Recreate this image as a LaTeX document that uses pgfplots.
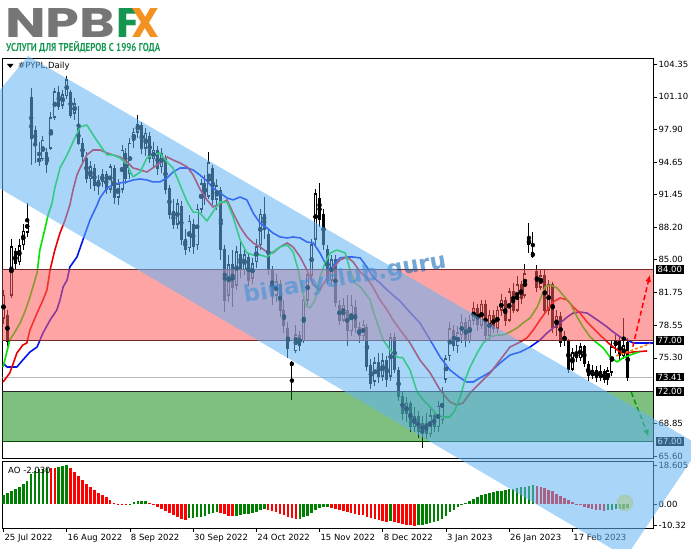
\documentclass[border=0pt]{standalone}
\usepackage{fontspec}
\usepackage{pgfplots}
\usepackage{pgfplotstable}
\pgfplotsset{compat=1.18}
\usetikzlibrary{arrows.meta}
\setmainfont{DejaVu Sans}
\newfontfamily\logofont{Poppins}
\newfontfamily\subfont{PT Sans}

\definecolor{chan}{RGB}{100,180,245}
\definecolor{zred}{RGB}{255,90,90}
\definecolor{zgreen}{RGB}{0,128,0}
\definecolor{lips}{RGB}{0,230,0}
\definecolor{teeth}{RGB}{235,0,0}
\definecolor{jaw}{RGB}{0,20,240}
\definecolor{aogreen}{RGB}{0,128,0}
\definecolor{aored}{RGB}{255,0,0}
\definecolor{logogray}{RGB}{118,118,118}
\definecolor{logogreen}{RGB}{20,150,80}
\definecolor{logoorange}{RGB}{243,146,33}
\definecolor{zline}{RGB}{120,40,40}

% daily candles, bar index from 25 Jul 2022
\pgfplotstableread{
i o h l c
0 79.2 82.0 78.6 81.5
1 79.5 80.0 76.5 76.9
2 81.5 87.0 81.2 86.3
3 85.8 86.2 84.0 84.6
4 84.8 87.0 84.5 86.4
5 86.5 88.5 86.0 87.8
6 87.7 90.6 87.2 88.9
7 101.0 102.0 94.4 97.0
8 97.8 98.2 94.6 96.6
9 94.7 96.6 94.3 95.0
10 95.0 97.2 94.8 96.8
11 95.6 96.0 93.6 94.4
12 96.0 99.6 95.8 99.0
13 99.1 102.0 98.8 101.6
14 101.5 102.2 99.8 100.2
15 100.3 101.8 99.9 101.3
16 101.2 103.2 100.9 102.8
17 101.5 101.8 99.0 99.3
18 99.5 101.0 98.8 100.4
19 98.0 100.2 96.3 96.5
20 96.5 97.0 94.6 95.2
21 95.0 95.6 92.6 93.0
22 93.0 94.8 92.0 94.2
23 94.0 94.5 91.8 92.3
24 92.3 93.4 91.4 92.8
25 92.7 94.0 92.2 93.4
26 93.4 93.8 91.5 92.0
27 92.0 94.5 91.6 94.2
28 94.0 94.4 90.5 91.2
29 91.2 93.0 90.4 92.5
30 92.0 96.3 91.6 95.8
31 95.5 96.0 92.5 93.0
32 93.5 97.0 93.0 96.5
33 96.8 98.0 96.0 97.6
34 97.6 99.3 97.0 98.4
35 98.3 98.6 95.5 96.0
36 96.0 98.0 95.3 97.5
37 97.2 97.6 94.6 95.0
38 95.0 96.6 94.2 95.8
39 95.8 96.2 93.4 94.0
40 94.2 96.0 93.6 95.5
41 95.0 95.4 91.5 92.0
42 92.0 92.4 89.0 89.5
43 89.8 91.0 88.0 88.5
44 88.5 91.0 88.0 90.5
45 90.3 90.8 86.5 87.0
46 87.0 88.0 85.5 86.0
47 86.2 89.4 85.8 88.8
48 88.5 89.0 85.6 86.3
49 86.5 90.5 86.0 90.0
50 90.0 93.0 89.6 92.5
51 92.5 93.4 90.4 91.2
52 91.3 95.6 91.0 94.6
53 94.0 94.4 90.4 91.0
54 91.0 93.0 89.9 92.3
55 91.8 92.2 85.0 86.0
56 86.0 86.5 79.8 81.0
57 81.5 85.5 80.8 84.5
58 84.5 86.0 80.3 82.3
59 82.5 86.4 82.0 85.8
60 85.5 86.8 83.2 84.0
61 84.0 86.2 83.5 85.5
62 85.2 85.6 82.4 83.0
63 83.2 85.2 82.6 84.6
64 84.8 87.0 84.2 86.3
65 86.5 90.0 86.0 89.5
66 89.5 91.2 87.0 88.0
67 87.5 88.0 83.5 84.0
68 84.0 84.4 80.5 81.5
69 81.5 83.6 80.8 82.8
70 82.5 83.0 79.3 80.0
71 80.0 81.0 77.8 78.5
72 78.2 78.8 75.3 76.2
73 74.8 75.0 71.1 74.6
74 76.0 78.5 75.8 77.6
75 77.5 78.0 76.0 76.5
76 77.0 81.5 76.8 81.0
77 81.0 84.0 80.5 83.5
78 83.5 87.0 83.0 86.5
79 87.0 92.0 86.5 91.5
80 91.0 92.6 88.2 89.0
81 89.5 90.0 86.0 86.5
82 86.0 86.5 82.6 83.0
83 83.0 85.5 82.5 85.0
84 85.0 85.5 80.3 80.8
85 80.5 81.0 78.5 79.0
86 79.0 81.2 78.8 80.5
87 80.0 81.5 76.5 78.0
88 78.0 81.5 77.5 80.5
89 80.3 81.0 77.8 78.3
90 78.3 78.8 76.8 77.5
91 77.5 79.0 77.0 78.5
92 78.3 78.6 74.0 74.5
93 74.5 75.2 72.2 72.8
94 73.0 75.4 72.5 74.8
95 74.8 75.8 72.8 73.5
96 73.5 75.8 73.0 75.0
97 75.0 75.5 72.4 73.2
98 73.5 77.8 73.0 77.3
99 77.3 77.8 73.8 74.2
100 74.0 74.4 71.0 71.5
101 71.5 72.0 69.2 69.8
102 69.8 71.4 69.0 70.8
103 70.8 71.0 68.0 68.5
104 68.5 70.4 68.0 69.5
105 69.5 70.0 67.4 68.0
106 68.0 69.6 66.4 68.8
107 68.8 69.8 67.3 67.8
108 67.8 70.2 67.5 69.6
109 69.6 70.0 68.0 68.5
110 68.5 71.0 68.0 70.5
111 69.2 72.4 68.8 72.0
112 73.2 75.6 72.8 75.2
113 75.5 78.8 75.0 78.2
114 78.0 78.5 76.0 76.5
115 76.5 78.4 75.8 77.8
116 77.6 79.6 76.8 78.8
117 78.8 79.2 76.4 77.0
118 77.0 79.5 76.8 79.0
119 79.0 80.8 78.5 80.2
120 80.2 80.6 78.0 78.6
121 78.5 81.0 78.2 80.6
122 80.6 81.0 77.0 77.5
123 77.5 80.0 77.0 79.5
124 79.5 80.0 77.8 78.2
125 78.2 80.4 77.8 80.0
126 80.0 81.6 79.4 81.0
127 81.0 81.3 78.4 79.0
128 79.0 82.2 78.8 81.8
129 81.8 82.7 79.7 80.0
130 80.0 83.4 79.8 82.5
131 82.5 82.9 80.6 81.2
132 81.5 84.6 81.2 83.6
133 86.5 88.6 85.7 87.0
134 85.7 87.7 85.2 85.3
135 83.8 84.5 81.8 82.3
136 82.3 84.0 82.0 83.4
137 83.4 84.0 79.5 80.0
138 80.0 83.0 79.5 82.5
139 82.5 82.8 77.8 78.3
140 78.3 80.0 77.5 79.4
141 79.4 79.8 76.4 76.8
142 77.0 78.0 76.5 77.4
143 77.0 77.2 73.8 74.2
144 74.2 76.3 74.0 75.8
145 75.8 76.6 74.9 75.3
146 75.3 76.8 75.0 76.4
147 76.4 76.6 74.4 74.8
148 74.6 75.0 73.0 73.6
149 73.6 74.6 73.2 74.0
150 74.0 74.5 72.9 73.4
151 73.4 74.6 73.0 73.9
152 73.9 74.2 72.8 73.2
153 73.2 74.4 72.6 74.0
154 73.9 77.0 73.5 76.4
155 76.5 77.6 75.8 77.0
156 77.0 77.5 75.0 75.5
157 75.5 79.2 75.2 76.5
158 76.8 77.3 73.0 73.41
}\candles

% Awesome Oscillator, u=1 rising bar (green), u=0 falling bar (red)
\pgfplotstableread{
i v u
0 4.3 1
1 5.1 1
2 6.2 1
3 7.2 1
4 8.3 1
5 9.4 1
6 11.1 1
7 14.3 1
8 15.9 1
9 16.5 1
10 16.8 1
11 17.3 1
12 17.1 0
13 17.0 0
14 17.6 1
15 18.1 1
16 18.605 1
17 17.0 0
18 15.4 0
19 13.4 0
20 11.4 0
21 9.5 0
22 7.9 0
23 6.7 0
24 5.4 0
25 4.3 0
26 3.5 0
27 1.9 0
28 0.6 0
29 0.1 0
30 -0.3 0
31 -0.5 0
32 -0.1 1
33 1.0 1
34 1.3 1
35 1.4 1
36 1.6 1
37 0.6 0
38 -0.5 0
39 -1.3 0
40 -2.2 0
41 -3.2 0
42 -4.5 0
43 -5.2 0
44 -6.4 0
45 -7.3 0
46 -7.6 0
47 -6.8 1
48 -6.5 1
49 -6.4 1
50 -6.0 1
51 -5.5 1
52 -5.0 1
53 -4.5 1
54 -4.0 1
55 -4.2 0
56 -5.0 0
57 -5.6 0
58 -5.8 0
59 -5.5 1
60 -5.2 1
61 -5.0 1
62 -4.6 1
63 -4.3 1
64 -3.8 1
65 -3.0 1
66 -2.5 1
67 -2.8 0
68 -3.4 0
69 -4.0 0
70 -4.6 0
71 -5.4 0
72 -6.0 0
73 -6.8 0
74 -7.1 0
75 -7.0 1
76 -6.4 1
77 -5.5 1
78 -4.3 1
79 -3.0 1
80 -2.0 1
81 -1.6 1
82 -1.5 1
83 -1.8 0
84 -2.3 0
85 -2.9 0
86 -3.3 0
87 -3.9 0
88 -4.2 0
89 -4.6 0
90 -5.1 0
91 -5.4 0
92 -6.0 0
93 -6.8 0
94 -7.3 0
95 -7.8 0
96 -8.0 0
97 -8.4 0
98 -8.2 1
99 -8.5 0
100 -9.0 0
101 -9.6 0
102 -9.8 0
103 -10.1 0
104 -10.32 0
105 -10.2 1
106 -9.9 1
107 -9.5 1
108 -9.1 1
109 -8.7 1
110 -8.0 1
111 -7.0 1
112 -5.6 1
113 -4.0 1
114 -2.8 1
115 -1.5 1
116 -0.4 1
117 0.6 1
118 1.6 1
119 2.6 1
120 3.4 1
121 4.2 1
122 4.8 1
123 5.3 1
124 5.7 1
125 6.0 1
126 6.4 1
127 6.7 1
128 7.0 1
129 7.3 1
130 7.6 1
131 7.9 1
132 8.3 1
133 8.8 1
134 9.0 1
135 8.8 0
136 8.3 0
137 7.6 0
138 6.9 0
139 6.0 0
140 5.0 0
141 4.0 0
142 3.0 0
143 2.0 0
144 1.0 0
145 0.2 0
146 -0.6 0
147 -1.2 0
148 -1.8 0
149 -2.3 0
150 -2.7 0
151 -3.0 0
152 -3.1 0
153 -3.0 1
154 -2.8 1
155 -2.6 1
156 -2.4 1
157 -2.2 1
158 -2.03 1
}\ao

\begin{document}
\begin{tikzpicture}[x=1pt,y=1pt]
\useasboundingbox (0,0) rectangle (691,549);
\fill[white] (0,0) rectangle (691,549);

\begin{axis}[
  at={(2.5pt,91pt)}, anchor=south west, scale only axis,
  width=650.5pt, height=400pt,
  xmin=-0.25, xmax=164.4, ymin=65.40, ymax=104.94,
  axis line style={black, line width=0.8pt},
  xtick=\empty,
  ytick pos=right, tick align=outside, major tick length=4pt,
  tick style={black, line width=0.6pt},
  ytick={65.60,68.85,75.30,78.55,81.75,85.00,88.20,91.45,94.65,97.90,101.10,104.35},
  yticklabels={65.60,68.85,75.30,78.55,81.75,85.00,88.20,91.45,94.65,97.90,101.10,104.35},
  yticklabel style={font=\fontsize{8.5}{10}\selectfont, anchor=west, xshift=-2pt},
]
% last price line
\addplot[gray!55, line width=0.6pt] coordinates {(-1,73.41) (170,73.41)};
% wicks
\addplot[only marks, mark=none, error bars/.cd, y dir=both, y explicit, error mark=none,
  error bar style={draw=black, line width=1pt}]
  table[x=i, y expr={(\thisrow{h}+\thisrow{l})/2}, y error expr={(\thisrow{h}-\thisrow{l})/2}] {\candles};
% bodies
\addplot[only marks, mark=none, error bars/.cd, y dir=both, y explicit, error mark=none,
  error bar style={draw=black, line width=3pt}]
  table[x=i, y expr={(\thisrow{o}+\thisrow{c})/2}, y error expr={abs(\thisrow{o}-\thisrow{c})/2+0.06}] {\candles};
\addplot[only marks, mark=none, restrict expr to domain={\thisrow{c}-\thisrow{o}}{0.25:100},
  error bars/.cd, y dir=both, y explicit, error mark=none,
  error bar style={draw=white, line width=1.4pt}]
  table[x=i, y expr={(\thisrow{o}+\thisrow{c})/2}, y error expr={(\thisrow{c}-\thisrow{o})/2-0.1}] {\candles};

% alligator jaw (blue)
\addplot[jaw, line width=1.6pt, line join=round] coordinates {
(-0.1,74.79) (0.9,74.40) (3.4,74.40) (4.9,75.09) (6.7,75.88) (8.5,76.37) (10.0,77.76)
(11.8,79.04) (13.5,80.03) (14.3,81.02) (15.1,82.31) (16.1,83.0) (16.8,84.28) (18.6,85.27)
(20.1,86.95) (21.9,88.93) (23.7,90.41) (24.4,91.10) (26.2,92.09) (27.7,92.39) (29.5,92.59)
(31.3,92.69) (32.8,92.88) (34.6,92.98) (36.3,92.88) (37.8,92.69) (39.6,92.69) (41.4,93.08)
(42.9,93.67) (44.7,94.07) (46.5,94.07) (48.0,93.87) (49.7,93.38) (51.5,92.78) (53.0,92.09)
(54.8,91.60) (56.6,91.10) (58.1,90.91) (59.9,91.20) (61.6,90.91) (63.2,89.62) (64.9,88.63)
(66.7,88.14) (68.2,87.64) (70.0,87.25) (71.8,87.15) (73.3,87.25) (75.1,87.15) (76.8,86.75)
(78.4,86.66) (80.1,85.67) (81.4,84.68) (82.7,83.99) (83.9,84.68) (85.2,85.17) (87.0,85.27)
(88.5,85.27) (90.3,85.17) (92.0,84.28) (93.5,83.29) (95.3,82.70) (97.1,82.01) (98.6,81.5)
(100.4,80.9) (102.9,79.8) (105.4,78.75) (108.0,77.07) (110.5,75.39) (113.0,74.10) (115.6,73.31)
(117.3,72.91) (118.9,72.91) (120.6,73.31) (123.2,73.90) (125.7,74.79) (128.2,75.58) (130.8,75.88)
(133.3,76.37) (135.8,77.07) (137.6,77.76) (139.1,78.25) (140.9,78.75) (142.7,79.34) (144.2,79.73)
(145.9,79.83) (147.7,79.73) (149.2,79.34) (151.0,78.85) (152.8,78.35) (154.3,77.86) (156.1,77.37)
(157.8,77.07) (159.4,76.77) (164.4,76.77)};
% alligator teeth (red)
\addplot[teeth, line width=1.6pt, line join=round] coordinates {
(-0.1,72.91) (1.6,73.81) (3.4,75.78) (4.9,76.57) (5.9,76.77) (6.7,78.06) (8.5,79.73) (10.0,81.02)
(11.0,82.01) (11.8,83.99) (13.0,85.96) (14.3,87.64) (15.6,88.93) (16.8,90.41) (17.6,91.89)
(18.6,93.38) (19.4,94.07) (21.1,95.36) (22.7,95.85) (24.4,95.85) (26.2,95.55) (27.7,95.36)
(29.5,95.16) (31.3,94.66) (32.8,94.07) (34.6,93.87) (36.3,93.67) (37.8,94.07) (39.6,94.56)
(41.4,95.16) (42.9,94.86) (44.7,94.56) (46.5,94.17) (48.0,93.38) (49.7,92.0) (51.5,90.91)
(53.0,90.21) (54.8,90.51) (56.6,90.91) (58.1,89.62) (59.9,88.24) (61.6,87.25) (63.2,86.66)
(64.9,86.26) (66.7,85.77) (68.2,85.67) (70.0,86.26) (71.8,86.66) (73.3,86.26) (75.1,85.27)
(76.8,83.99) (78.4,82.51) (80.1,82.01) (81.6,83.0) (83.4,84.18) (85.2,84.98) (87.0,85.27)
(88.5,84.78) (90.3,83.79) (92.0,83.19) (93.5,82.31) (95.3,81.02) (97.1,80.03) (98.6,79.04)
(100.4,78.06) (102.9,76.77) (105.4,75.09) (108.0,73.81) (110.5,72.12) (113.0,70.94) (114.8,70.64)
(116.3,70.84) (118.1,71.83) (120.6,72.81) (123.2,73.81) (125.7,75.09) (128.2,76.37) (130.8,76.87)
(132.5,77.27) (134.1,78.06) (135.8,79.04) (137.6,80.03) (139.1,80.82) (140.9,81.22) (142.7,81.02)
(144.2,80.33) (145.9,79.73) (147.7,78.85) (149.2,78.25) (151.0,77.56) (152.8,76.87) (154.3,76.37)
(156.1,75.88) (157.8,75.78) (159.4,75.88) (162.9,75.98)};
% alligator lips (green)
\addplot[lips, line width=1.6pt, line join=round] coordinates {
(-0.1,74.40) (1.6,77.07) (2.9,77.86) (4.2,78.75) (5.4,79.83) (6.7,81.32) (8.5,83.69) (9.2,85.96)
(10.3,87.74) (11.3,89.43) (12.3,90.61) (13.0,92.09) (14.3,94.07) (16.1,95.36) (17.6,96.64)
(19.4,98.12) (21.1,98.32) (22.7,97.33) (24.4,96.34) (26.2,95.36) (27.7,95.36) (29.5,95.06)
(31.3,94.37) (32.8,93.18) (34.6,93.67) (36.3,95.06) (37.8,95.36) (39.6,95.55) (41.4,94.66)
(42.9,94.07) (44.7,92.39) (46.5,90.71) (48.0,89.72) (49.7,89.62) (51.5,88.83) (53.0,89.72)
(54.8,90.71) (56.6,90.71) (58.1,89.23) (59.9,86.95) (61.6,85.67) (63.2,85.47) (64.9,85.47)
(66.7,85.27) (68.2,85.77) (70.0,86.26) (71.8,86.46) (73.3,85.77) (74.6,83.99) (75.6,82.01)
(76.6,80.43) (77.6,80.23) (78.9,81.02) (80.1,83.29) (81.4,84.68) (82.7,85.67) (84.4,85.96)
(86.5,85.67) (87.7,83.99) (89.0,82.70) (90.3,82.31) (91.5,81.71) (92.8,81.02) (93.5,80.03)
(94.6,78.75) (96.1,77.07) (97.8,76.08) (99.6,75.39) (101.1,75.29) (102.9,74.10) (104.7,71.93)
(106.2,71.14) (108.0,70.44) (109.7,69.65) (111.3,69.45) (113.0,69.45) (114.3,70.15) (115.6,71.43)
(116.8,73.11) (118.1,74.40) (119.9,75.78) (121.4,76.77) (123.2,77.37) (124.9,77.56) (126.5,77.56)
(128.2,77.86) (130.0,78.25) (131.5,78.75) (133.3,79.24) (135.1,80.33) (135.8,81.02) (137.1,82.31)
(138.4,82.51) (140.1,82.21) (141.6,81.52) (143.4,80.72) (145.2,79.34) (146.7,78.35) (148.5,77.37)
(150.2,76.77) (151.8,76.28) (153.5,75.39) (155.3,74.89) (156.8,75.29) (158.6,75.58) (160.9,75.88)};

% support / resistance zones
\addplot[fill=zred, fill opacity=0.55, draw=none] coordinates {(-1,77) (170,77) (170,84) (-1,84)} --cycle;
\addplot[fill=zgreen, fill opacity=0.5, draw=none] coordinates {(-1,67) (170,67) (170,72) (-1,72)} --cycle;
\addplot[zline, line width=1pt] coordinates {(-1,84) (170,84)};
\addplot[zline, line width=1pt] coordinates {(-1,77) (170,77)};
\addplot[black!85, line width=1pt] coordinates {(-1,72) (170,72)};
\addplot[black!70!green, line width=1pt] coordinates {(-1,67) (170,67)};

% forecast arrows
\addplot[orange, line width=1.5pt, dash pattern=on 3pt off 2pt] coordinates {(155.1,75.5) (163.7,76.7)};
\addplot[red, line width=1.5pt, dash pattern=on 5pt off 3pt, -{Latex[length=7pt,width=6pt]}] coordinates {(159.3,76.4) (163.6,83.5)};
\addplot[black!40!green, line width=1.5pt, dash pattern=on 5pt off 3pt, -{Latex[length=7pt,width=6pt]}] coordinates {(158.9,71.9) (163.3,67.5)};

\coordinate (l84) at (axis cs:164.4,84.00);
\coordinate (l77) at (axis cs:164.4,77.00);
\coordinate (l7341) at (axis cs:164.4,73.41);
\coordinate (l72) at (axis cs:164.4,72.00);
\coordinate (l67) at (axis cs:164.4,67.00);
\end{axis}

\begin{axis}[
  at={(2.5pt,21pt)}, anchor=south west, scale only axis,
  width=650.5pt, height=67pt,
  xmin=-0.25, xmax=164.4, ymin=-11.44, ymax=20.5,
  axis line style={black, line width=0.8pt},
  ytick pos=right, xtick pos=bottom, tick align=outside, major tick length=4pt,
  tick style={black, line width=0.6pt},
  ytick={-10.32,0,18.605}, yticklabels={-10.32,0.00,18.605},
  yticklabel style={font=\fontsize{8.5}{10}\selectfont, anchor=west, xshift=-2pt},
  xtick={0,16,32,48,64,80,96,112,128,144},
  xticklabels={25 Jul 2022,16 Aug 2022,8 Sep 2022,30 Sep 2022,24 Oct 2022,15 Nov 2022,8 Dec 2022,3 Jan 2023,26 Jan 2023,17 Feb 2023},
  xticklabel style={font=\fontsize{8.5}{10}\selectfont, anchor=north west, xshift=-2.5pt, yshift=1pt},
]
\addplot[ycomb, aogreen, line width=2.6pt, restrict expr to domain={\thisrow{u}}{0.5:1.5}] table[x=i,y=v] {\ao};
\addplot[ycomb, aored, line width=2.6pt, restrict expr to domain={\thisrow{u}}{-0.5:0.5}] table[x=i,y=v] {\ao};
\addplot[only marks, mark=*, mark size=8pt, mark options={fill=yellow!80!orange, fill opacity=0.55, draw=yellow!60!orange, draw opacity=0.6}] coordinates {(157.3,0.5)};
\end{axis}

% highlighted price labels
\foreach \c/\t in {l84/84.00,l77/77.00,l7341/73.41,l72/72.00,l67/67.00}{
  \node[fill=black, text=white, inner xsep=1.5pt, inner ysep=1.2pt, anchor=west,
    font=\fontsize{8.5}{10}\selectfont] at ([xshift=3pt]\c) {\t};
}

% titles
\fill[black] (7,485) -- (13.5,485) -- (10.25,481) -- cycle;
\node[anchor=west, inner sep=0, font=\fontsize{8.5}{10}\selectfont] at (18,483) {\#PYPL,Daily};
\node[anchor=west, inner sep=0, font=\fontsize{8.5}{10}\selectfont] at (8,79) {AO -2.030};

% watermark
\node[rotate=10, text=blue!45!cyan!70!black, opacity=0.55, inner sep=0] at (345,270)
  {\resizebox{205pt}{!}{\bfseries binaryclub.guru}};

% trend channel
\begin{scope}
\clip (0,0) rectangle (691,549);
\fill[chan, opacity=0.55] (28,493) -- (700.8,103) -- (626,-8) -- (-54.8,392.7) -- cycle;
\end{scope}

% logo
\node[anchor=south west, inner sep=0] at (5,511) {\resizebox{110pt}{29pt}{\logofont\bfseries\color{logogray}NPB}};
\node[anchor=south west, inner sep=0] at (116,511) {\resizebox{24pt}{29pt}{\logofont\bfseries\color{logogreen}F}};
\node[anchor=south west, inner sep=0] at (131,511) {\resizebox{28pt}{29pt}{\logofont\bfseries\color{logoorange}X}};
\node[anchor=south west, inner sep=0] at (6,497) {\resizebox{154pt}{8pt}{\subfont\bfseries\color{logogreen}\vphantom{У}\smash{УСЛУГИ ДЛЯ ТРЕЙДЕРОВ С 1996 ГОДА}}};
\end{tikzpicture}
\end{document}
